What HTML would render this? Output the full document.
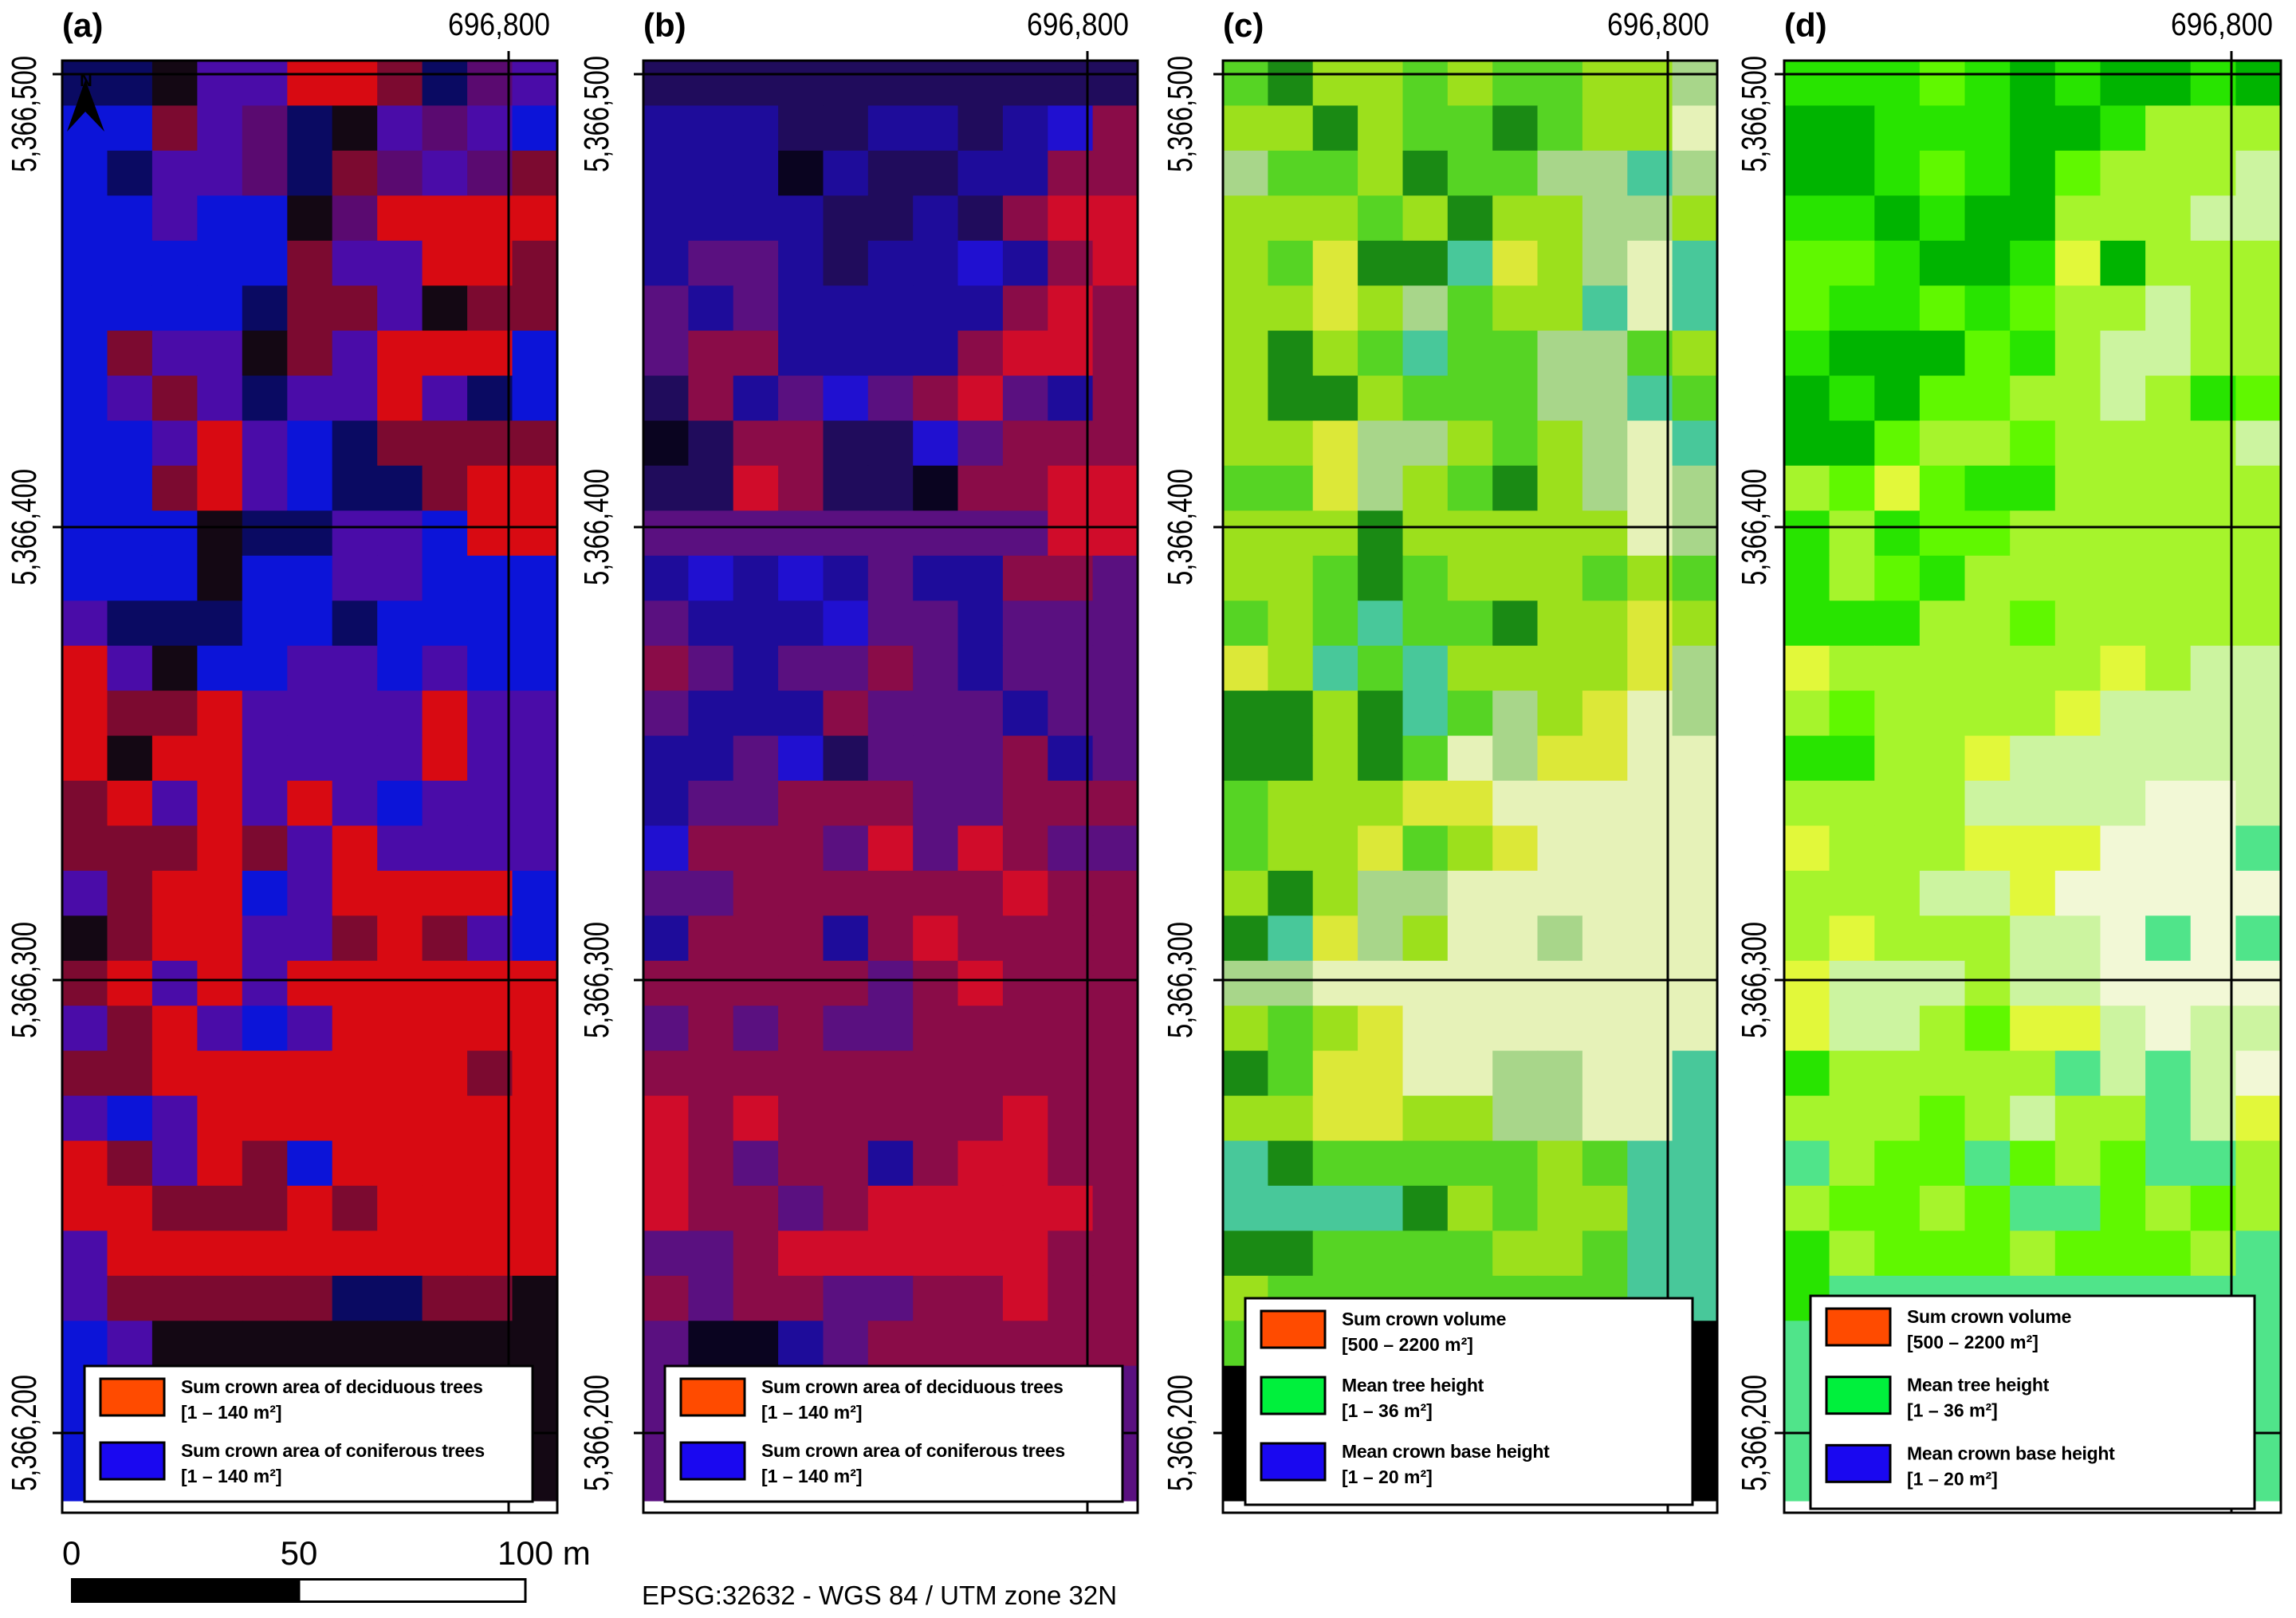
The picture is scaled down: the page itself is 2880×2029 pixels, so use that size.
<!DOCTYPE html>
<html><head><meta charset="utf-8"><style>
html,body{margin:0;padding:0;background:#fff;}
svg{display:block;}
text{font-family:"Liberation Sans",sans-serif;}
</style></head><body>
<svg id="map" width="2880" height="2029" viewBox="0 0 2880 2029" xmlns="http://www.w3.org/2000/svg"></svg>
<script>
// ---- data: raster cell classes per panel (11 columns x rows) ----
const paletteA = {B:'#0c14d8',D:'#0a0a62',K:'#140814',P:'#4a0ca8',V:'#5a0a70',M:'#7c0a30',R:'#d80a12'};
const rowsA = [
"D D K P P R R M D V P","B B M P V D K P V P B","B D P P V D M V P V M","B B P B B K V R R R R",
"B B B B B M P P R R M","B B B B D M M P K M M","B M P P K M P R R R B","B P M P D P P R P D B",
"B B P R P B D M M M M","B B M R P B D D M R R","B B B K D D P P B R R","B B B K B B P P B B B",
"P D D D B B D B B B B","R P K B B P P B P B B","R M M R P P P P R P P","R K R R P P P P R P P",
"M R P R P R P B P P P","M M M R M P R P P P P","P M R R B P R R R R B","K M R R P P M R M P B",
"M R P R P R R R R R R","P M R P B P R R R R R","M M R R R R R R R M R","P B P R R R R R R R R",
"R M P R M B R R R R R","R R M M M R M R R R R","P R R R R R R R R R R","P M M M M M D D M M K",
"B P K K K K K K K K K","B K K K K K K K K K K","B K K K K K K K K K K","B K K K K K K K K K K"];
const paletteB = {D:'#200c5c',N:'#1e0c9a',B:'#2010d0',K:'#0a0420',P:'#5a1080',M:'#8a0c48',R:'#d00c2a'};
const rowsB = [
"D D D D D D D D D D D","N N N D D N N D N B M","N N N K N D D N N M M","N N N N D D N D M R R",
"N P P N D N N B N M R","P N P N N N N N M R M","P M M N N N N M R R M","D M N P B P M R P N M",
"K D M M D D B P M M M","D D R M D D K M M R R","P P P P P P P P P R R","N B N B N P N N M M P",
"P N N N B P P N P P P","M P N P P M P N P P P","P N N N M P P P N P P","N N P B D P P P M N P",
"N P P M M M P P M M M","B M M M P R P R M P P","P P M M M M M M R M M","N M M M N M R M M M M",
"M M M M M P M R M M M","P M P M P P M M M M M","M M M M M M M M M M M","R M R M M M M M R M M",
"R M P M M N M R R M M","R M M P M R R R R R M","P P M R R R R R R M M","M P M M P P M M R M M",
"P K K N P M M M M M M","P P P P P P P P P P P","P P P P P P P P P P P","P P P P P P P P P P P"];
const paletteC = {G:'#1a8a14',g:'#56d424',L:'#9ce01c',Y:'#dce838',W:'#e6f2b8',T:'#48c89a',H:'#a8d68a',K:'#000000'};
const rowsC = [
"g G L L g L g g L L H","L L G L g g G g L L W","H g g L G g g H H T H","L L L g L G L L H H L",
"L g Y G G T Y L H W T","L L Y L H g L L T W T","L G L g T g g H H g L","L G G L g g g H H T g",
"L L Y H H L g L H W T","g g Y H L g G L H W H","L L L G L L L L L W H","L L g G g L L L g L g",
"g L g T g g G L L Y L","Y L T g T L L L L Y H","G G L G T g H L Y W H","G G L G g W H Y Y W W",
"g L L L Y Y W W W W W","g L L Y g L Y W W W W","L G L H H W W W W W W","G T Y H L W W H W W W",
"H H W W W W W W W W W","L g L Y W W W W W W W","G g Y Y W W H H W W T","L L Y Y L L H H W W T",
"T G g g g g g L g T T","T T T T G L g L L T T","G G g g g g L L g T T","L g g g g g g g g T T",
"g K K K K K K K K K K","K K K K K K K K K K K","K K K K K K K K K K K","K K K K K K K K K K K"];
const paletteD = {G:'#00b400',g:'#28e400',l:'#60f800',L:'#a6f42c',Y:'#e2f83a',W:'#f2f8d6',P:'#ccf4a0',C:'#50e48a'};
const rowsD = [
"g g g l g G g G G g G","G G g g g G G g L L L","G G g l g G l L L L P","g g G g G G L L L P P",
"l l g G G g Y G L L L","l g g l g l L L P L L","g G G G l g L P P L L","G g G l l L L P L g l",
"G G l L L l L L L L P","L l Y l g g L L L L L","g L g l l L L L L L L","g L l g L L L L L L L",
"g g g L L l L L L L L","Y L L L L L L Y L P P","L l L L L L Y P P P P","g g L L Y P P P P P P",
"L L L L P P P P W W P","Y L L L Y Y Y W W W C","L L L P P Y W W W W W","L Y L L L P P W C W C",
"Y P P P L P P W W W W","Y P P L l Y Y P W P P","g L L L L L C P C P W","L L L l L P L L C P Y",
"C L l l C l L l C C L","L l l L l C C l L l L","g L l l l L l l l L C","g C C C C C C C C C C",
"C C C C C C C C C C C","C C C C C C C C C C C","C C C C C C C C C C C","C C C C C C C C C C C"];
const panelLetters = ['(a)','(b)','(c)','(d)'];
const yTickLabels = ['5,366,500','5,366,400','5,366,300','5,366,200'];
const yTickValues = [5366500,5366400,5366300,5366200];
const xTickLabel = '696,800';
const xTickValue = 696800;
const legendA = [['Sum crown area of deciduous trees','[1 – 140 m²]','#ff4b00'],['Sum crown area of coniferous trees','[1 – 140 m²]','#1a08f0']];
const legendC = [['Sum crown volume','[500 – 2200 m²]','#ff4b00'],['Mean tree height','[1 – 36 m²]','#00f03c'],['Mean crown base height','[1 – 20 m²]','#1a08f0']];

// ---- layout ----
const NS='http://www.w3.org/2000/svg';
const svgRoot=document.getElementById('map');
function mk(tag,attrs,parent){const e=document.createElementNS(NS,tag);for(const k in attrs)e.setAttribute(k,attrs[k]);(parent||svgRoot).appendChild(e);return e;}
const panels=[
 {x0:78,x1:699,rows:rowsA,pal:paletteA,gx:638,ylab:28,leg:legendA,lb:[106,1713,562,170]},
 {x0:807,x1:1427,rows:rowsB,pal:paletteB,gx:1364,ylab:746,leg:legendA,lb:[834,1713,574,170]},
 {x0:1534,x1:2154,rows:rowsC,pal:paletteC,gx:2092,ylab:1478,leg:legendC,lb:[1562,1628,561,259]},
 {x0:2238,x1:2861,rows:rowsD,pal:paletteD,gx:2799,ylab:2198,leg:legendC,lb:[2271,1625,557,267]}];
const topY=76, rasterBottomY=1882, frameBottomY=1897;
function yScale(v){return 93+(5366500-v)*5.68;}
panels.forEach((p,i)=>{
  const g=mk('g',{});
  
  
  const nr=p.rows.length, nc=11;
  const cw=(p.x1-p.x0)/nc, ch=(rasterBottomY-topY)/nr;
  mk('rect',{x:p.x0,y:topY,width:p.x1-p.x0,height:frameBottomY-topY,fill:'#fff'},g);
  p.rows.forEach((row,r)=>{
    row.split(' ').forEach((code,c)=>{
      const el=mk('rect',{x:(p.x0+c*cw).toFixed(1),y:(topY+r*ch).toFixed(1),width:(cw+0.6).toFixed(1),height:(ch+0.6).toFixed(1),fill:p.pal[code]},g);
      
      
    });
  });
  yTickValues.forEach((v,k)=>{
    const y=yScale(v);
    const l=mk('line',{x1:p.x0-12,x2:p.x1,y1:y,y2:y,stroke:'#000','stroke-width':3},g);
    
    
    const cy = k===0 ? 143 : y;
    const t=mk('text',{x:0,y:0,transform:'translate('+(p.ylab+17)+','+cy+') rotate(-90)','text-anchor':'middle','font-size':44,'font-family':'DejaVu Sans, sans-serif',textLength:146,lengthAdjust:'spacingAndGlyphs'},g);
    t.textContent=yTickLabels[k];
    
    
  });
  const vl=mk('line',{x1:p.gx,x2:p.gx,y1:topY-12,y2:frameBottomY,stroke:'#000','stroke-width':3},g);
  
  
  const xt=mk('text',{x:p.gx+52,y:44,'text-anchor':'end','font-size':40,textLength:128,lengthAdjust:'spacingAndGlyphs'},g);
  xt.textContent=xTickLabel;
  
  
  const fr=mk('rect',{x:p.x0,y:topY,width:p.x1-p.x0,height:frameBottomY-topY,fill:'none',stroke:'#000','stroke-width':3},g);
  
  
  const pl=mk('text',{x:p.x0,y:46,'font-size':42,'font-weight':'bold'},g);
  pl.textContent=panelLetters[i];
  
  
  const lx=p.lb[0],ly=p.lb[1],lw=p.lb[2],lh=p.lb[3];
  const lg=mk('g',{},g);
  
  
  mk('rect',{x:lx,y:ly,width:lw,height:lh,fill:'#fff',stroke:'#000','stroke-width':3},lg);
  const n=p.leg.length, step=(lh-10)/n;
  p.leg.forEach((e,k)=>{
    const ey=ly+8+k*step;
    const sw=mk('rect',{x:lx+20,y:ey+8,width:80,height:46,fill:e[2],stroke:'#000','stroke-width':3},lg);
    
    
    const t1=mk('text',{x:lx+121,y:ey+26,'font-size':23,'font-weight':'bold','letter-spacing':-0.3},lg);
    t1.textContent=e[0];
    
    
    const t2=mk('text',{x:lx+121,y:ey+58,'font-size':23,'font-weight':'bold'},lg);
    t2.textContent=e[1];
    
    
  });
});
const na=mk('g',{});


mk('polygon',{points:'107,100 84,165 107,140 131,165',fill:'#000'},na);
const nt=mk('text',{x:100,y:108,'font-size':22,'font-weight':'bold',fill:'#000'},na);
nt.textContent='N';
const sb=mk('g',{});


mk('rect',{x:89,y:1979,width:286,height:31,fill:'#000'},sb);
mk('rect',{x:375,y:1980.5,width:284,height:28,fill:'#fff',stroke:'#000','stroke-width':3},sb);
[['0',78,'start'],['50',375,'middle'],['100 m',624,'start']].forEach(s=>{
  const t=mk('text',{x:s[1],y:1962,'font-size':42,'text-anchor':s[2]},sb);
  t.textContent=s[0];
  
  
});
const ep=mk('text',{x:805,y:2012,'font-size':33});
ep.textContent='EPSG:32632 - WGS 84 / UTM zone 32N';


</script>
</body></html>
